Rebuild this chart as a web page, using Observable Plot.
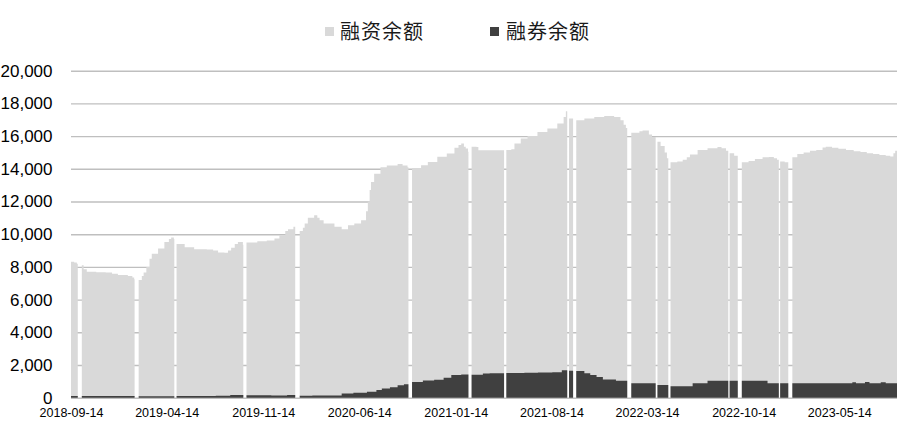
<!DOCTYPE html>
<html>
<head>
<meta charset="utf-8">
<script src="https://cdn.jsdelivr.net/npm/d3@7"></script>
<script src="https://cdn.jsdelivr.net/npm/@observablehq/plot@0.6"></script>
<style>
  body { margin: 0; background: #fff; }
  #wrap { width: 900px; height: 428px; position: relative; overflow: hidden; }
  #legend { position: relative; height: 50px; font-family: "Noto Sans CJK SC", sans-serif; font-size: 20px; color: #1a1a1a; }
  .sw { position: absolute; top: 27px; width: 9px; height: 9px; }
  .lt { position: absolute; top: 20px; line-height: 22px; letter-spacing: 1px; white-space: nowrap; }
</style>
</head>
<body>
<div id="wrap">
  <div id="legend"></div>
  <div id="chart"></div>
</div>
<script>
// ---- series names ----
const seriesNames = ["融资余额", "融券余额"];
const seriesColors = ["#d9d9d9", "#404040"];

// ---- x tick labels ----
const xTickLabels = ["2018-09-14","2019-04-14","2019-11-14","2020-06-14","2021-01-14","2021-08-14","2022-03-14","2022-10-14","2023-05-14"];
const yTickValues = [0,2000,4000,6000,8000,10000,12000,14000,16000,18000,20000];
const domainStart = "2018-09-14";
const domainEnd = "2023-09-19";

// ---- market closures (first closed day, reopening day) ----
const gapStarts = ["2018-09-29","2019-02-02","2019-05-01","2019-10-01","2020-01-24","2020-10-01","2021-02-11","2021-05-01","2021-09-18","2021-10-01","2022-01-29","2022-04-02","2022-04-30","2022-09-10","2022-10-01","2022-12-31","2023-01-21"];
const gapEnds   = ["2018-10-08","2019-02-11","2019-05-06","2019-10-08","2020-02-03","2020-10-09","2021-02-18","2021-05-06","2021-09-22","2021-10-08","2022-02-07","2022-04-06","2022-05-05","2022-09-13","2022-10-10","2023-01-03","2023-01-30"];

// ---- 融资余额 ----
const finDates = [
"2018-09-14","2018-09-21","2018-09-27",
"2018-10-08","2018-10-12","2018-10-19","2018-11-09","2018-11-30","2018-12-14","2018-12-27","2019-01-18","2019-01-28","2019-02-01",
"2019-02-11","2019-02-18","2019-02-22","2019-02-28","2019-03-07","2019-03-12","2019-03-26","2019-04-09","2019-04-19","2019-04-24","2019-04-30",
"2019-05-06","2019-05-24","2019-06-14","2019-07-12","2019-07-26","2019-08-06","2019-08-20","2019-08-28","2019-09-04","2019-09-12","2019-09-19","2019-09-26","2019-09-30",
"2019-10-08","2019-11-01","2019-11-22","2019-12-09","2019-12-20","2020-01-02","2020-01-08","2020-01-20",
"2020-02-03","2020-02-10","2020-02-14","2020-02-21","2020-03-06","2020-03-13","2020-03-18","2020-03-27","2020-04-20","2020-05-06","2020-05-20","2020-06-03","2020-06-18","2020-06-29","2020-07-03","2020-07-07","2020-07-10","2020-07-17","2020-07-31","2020-08-14","2020-09-07","2020-09-18","2020-09-29",
"2020-10-09","2020-10-29","2020-11-13","2020-12-04","2020-12-25","2021-01-11","2021-01-20","2021-01-26","2021-02-01","2021-02-05","2021-02-10",
"2021-02-18","2021-03-01","2021-03-05",
"2021-05-06","2021-05-17","2021-05-24","2021-06-07","2021-06-22","2021-07-14","2021-08-05","2021-08-27","2021-09-10","2021-09-15",
"2021-09-22",
"2021-10-08","2021-10-26","2021-11-17","2021-12-09","2021-12-31","2022-01-14","2022-01-21","2022-01-26",
"2022-02-07","2022-02-25","2022-03-04","2022-03-18","2022-03-25",
"2022-04-06","2022-04-13","2022-04-22","2022-04-27",
"2022-05-05","2022-05-20","2022-06-01","2022-06-10","2022-06-17","2022-07-04","2022-07-26","2022-08-17","2022-08-26","2022-09-05",
"2022-09-13","2022-09-23",
"2022-10-10","2022-10-25","2022-11-08","2022-11-25","2022-12-09","2022-12-20","2022-12-27",
"2023-01-03","2023-01-13",
"2023-01-30","2023-02-10","2023-02-24","2023-03-10","2023-03-24","2023-04-07","2023-04-14","2023-04-28","2023-05-12","2023-05-29","2023-06-15","2023-06-30","2023-07-14","2023-07-28","2023-08-11","2023-08-25","2023-09-04","2023-09-11","2023-09-15"
];
const finValues = [
8320,8270,8200,
8100,7850,7700,7680,7650,7580,7500,7450,7350,7250,
7200,7450,7650,8000,8500,8800,9130,9530,9700,9800,9700,
9400,9200,9080,9070,9000,8880,8870,9000,9170,9400,9530,9530,9350,
9500,9570,9620,9740,9940,10200,10300,10450,
10200,10400,10650,11000,11160,11000,10860,10650,10450,10300,10550,10650,10860,11400,12000,12700,13200,13700,14100,14200,14300,14200,14100,
14050,14220,14420,14730,14930,15280,15450,15540,15350,15240,15050,
15350,15340,15130,
15150,15200,15540,15850,16010,16250,16460,16770,17170,17520,
17070,
16970,17070,17170,17230,17170,16970,16700,16500,
16200,16300,16350,16100,15950,
15650,15400,15000,14650,
14400,14450,14550,14700,14880,15150,15250,15340,15250,15100,
14950,14800,
14400,14480,14600,14700,14720,14650,14550,
14450,14400,
14700,14900,15000,15100,15150,15300,15350,15280,15220,15150,15080,15020,14950,14900,14850,14800,14750,14950,15100
];

// ---- 融券余额 ----
const secDates = [
"2018-09-14","2018-10-08","2019-02-11","2019-05-06","2019-08-01","2019-09-02","2019-10-08","2019-12-02","2020-01-06","2020-02-03","2020-03-02",
"2020-05-06","2020-06-01","2020-07-01","2020-07-22","2020-08-03","2020-08-21","2020-09-07","2020-09-21","2020-10-09","2020-11-02","2020-11-27","2020-12-18",
"2021-01-04","2021-01-26","2021-02-18","2021-03-15","2021-03-30","2021-05-06","2021-06-15","2021-07-15","2021-08-16","2021-09-06","2021-09-22","2021-10-08","2021-10-26","2021-11-08","2021-11-22","2021-12-06",
"2022-01-04","2022-02-07","2022-04-06","2022-05-05","2022-06-23","2022-07-26","2022-10-10","2022-12-06",
"2023-06-12","2023-06-20","2023-07-10","2023-07-20","2023-08-14","2023-08-25"
];
const secValues = [
110,100,90,110,120,170,150,130,160,120,140,
260,300,370,470,560,640,760,830,960,1050,1100,1220,
1390,1420,1400,1480,1500,1510,1520,1540,1560,1680,1650,1630,1490,1390,1270,1120,
1040,880,780,700,880,1030,1040,880,
950,880,960,880,950,880
];

const parse = d3.utcParse("%Y-%m-%d");

// Build step-shaped bar outlines broken at market closures
function buildSeries(dates, values) {
  const pts = dates.map((d, i) => ({date: parse(d), value: values[i]}));
  const starts = [parse(domainStart), ...gapEnds.map(parse)];
  const ends = [...gapStarts.map(parse), parse(domainEnd)];
  const out = [];
  for (let k = 0; k < starts.length; k++) {
    const s = starts[k], e = ends[k];
    let v = pts[0].value;
    for (const p of pts) if (p.date <= s) v = p.value;
    out.push({date: s, value: v});
    for (const p of pts) if (p.date > s && p.date < e) { out.push(p); v = p.value; }
    out.push({date: e, value: v});
    out.push({date: e, value: NaN});
  }
  return out;
}

const fin = buildSeries(finDates, finValues);
const sec = buildSeries(secDates, secValues);

// legend
const legend = document.getElementById("legend");
const legendPos = [{sw: 325, tx: 340}, {sw: 490, tx: 506}];
seriesNames.forEach((n, i) => {
  const s = document.createElement("div");
  s.className = "sw"; s.style.left = legendPos[i].sw + "px"; s.style.background = seriesColors[i];
  const t = document.createElement("div");
  t.className = "lt"; t.style.left = legendPos[i].tx + "px"; t.textContent = n;
  legend.appendChild(s); legend.appendChild(t);
});

const chart = Plot.plot({
  width: 900,
  height: 378,
  marginLeft: 71,
  marginRight: 3,
  marginTop: 20.7,
  marginBottom: 30.3,
  style: {fontFamily: "'Liberation Sans', Arial, sans-serif", background: "#fff", color: "#000", overflow: "visible"},
  x: {type: "utc", domain: [parse(domainStart), parse(domainEnd)]},
  y: {domain: [0, 20000]},
  marks: [
    Plot.ruleY(yTickValues, {stroke: "#bfbfbf", strokeWidth: 1.4}),
    Plot.areaY(fin, {x: "date", y1: 0, y2: "value", curve: "step-after", fill: seriesColors[0]}),
    Plot.areaY(sec, {x: "date", y1: 0, y2: "value", curve: "step-after", fill: seriesColors[1]}),
    Plot.axisY(yTickValues, {tickSize: 0, tickPadding: 19, tickFormat: d3.format(","), fontSize: 17, label: null}),
    Plot.axisX(xTickLabels.map(parse), {tickSize: 0, tickPadding: 10, tickFormat: d3.utcFormat("%Y-%m-%d"), fontSize: 12.5, label: null})
  ]
});
document.getElementById("chart").appendChild(chart);
</script>
</body>
</html>
